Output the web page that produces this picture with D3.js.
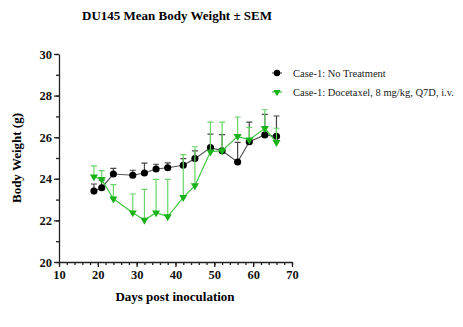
<!DOCTYPE html>
<html>
<head>
<meta charset="utf-8">
<script src="https://cdn.jsdelivr.net/npm/d3@7"></script>
<style>
  body { margin: 0; background: #fff; }
  svg text { font-family: "Liberation Serif", "Times New Roman", Times, "DejaVu Serif", serif !important; }
  .axis path, .axis line { stroke: #222; }
  .axis text { font-size: 12.5px; font-weight: bold; fill: #111; }
</style>
</head>
<body>
<script>
// days post inoculation
var days = [19, 21, 24, 29, 32, 35, 38, 42, 45, 49, 52, 56, 59, 63, 66];

// Case-1: No Treatment, mean and SEM (g)
var noTreatment = [23.41, 23.57, 24.23, 24.17, 24.28, 24.47, 24.53, 24.65, 24.97, 25.50, 25.35, 24.81, 25.78, 26.11, 26.04];
var noTreatmentSem = [0.34, 0.37, 0.27, 0.24, 0.47, 0.23, 0.24, 0.32, 0.37, 0.65, 0.77, 0.94, 0.94, 0.99, 0.98];

// Case-1: Docetaxel, mean and SEM (g)
var docetaxel = [24.10, 23.97, 23.04, 22.37, 22.02, 22.37, 22.18, 23.11, 23.67, 25.30, 25.35, 26.04, 25.87, 26.43, 25.75];
var docetaxelSem = [0.52, 0.42, 0.68, 0.90, 1.47, 1.60, 1.79, 2.05, 1.87, 1.42, 1.37, 0.93, 0.60, 0.89, 0.68];

var xTicks = [10, 20, 30, 40, 50, 60, 70];
var yTicks = [20, 22, 24, 26, 28, 30];

var width = 463,
    height = 327,
    margin = {top: 54, right: 171, bottom: 65, left: 59};

var svg = d3.select("body").append("svg")
    .attr("width", width)
    .attr("height", height);

var x = d3.scaleLinear().domain([10, 70]).range([margin.left, width - margin.right]);
var y = d3.scaleLinear().domain([20, 30]).range([height - margin.bottom, margin.top]);

// minor ticks first, then the labelled ones on top
svg.append("g")
    .attr("class", "axis")
    .attr("transform", "translate(0," + y(20) + ")")
    .call(d3.axisBottom(x).tickValues(d3.range(10, 71, 2)).tickSize(3).tickFormat(""))
    .call(function(g) { g.select(".domain").remove(); });
svg.append("g")
    .attr("class", "axis")
    .attr("transform", "translate(" + x(10) + ",0)")
    .call(d3.axisLeft(y).tickValues(d3.range(20, 31, 1)).tickSize(3).tickFormat(""))
    .call(function(g) { g.select(".domain").remove(); });

var gX = svg.append("g")
    .attr("class", "axis")
    .attr("transform", "translate(0," + y(20) + ")")
    .call(d3.axisBottom(x).tickValues(xTicks).tickSize(5).tickSizeOuter(0).tickPadding(3));
var gY = svg.append("g")
    .attr("class", "axis")
    .attr("transform", "translate(" + x(10) + ",0)")
    .call(d3.axisLeft(y).tickValues(yTicks).tickSize(5).tickSizeOuter(0).tickPadding(2));
svg.selectAll(".axis path, .axis line").attr("stroke-width", 1.3);
svg.selectAll(".axis").attr("font-family", null);

// title and axis labels
svg.append("text")
    .attr("x", 177)
    .attr("y", 20)
    .attr("text-anchor", "middle")
    .style("font-size", "13px")
    .style("font-weight", "bold")
    .text("DU145 Mean Body Weight \u00b1 SEM");
svg.append("text")
    .attr("x", 175)
    .attr("y", 301)
    .attr("text-anchor", "middle")
    .style("font-size", "13px")
    .style("font-weight", "bold")
    .text("Days post inoculation");
svg.append("text")
    .attr("transform", "rotate(-90)")
    .attr("x", -158)
    .attr("y", 21)
    .attr("text-anchor", "middle")
    .style("font-size", "13px")
    .style("font-weight", "bold")
    .text("Body Weight (g)");

var series = [
  {name: "Case-1: No Treatment", mean: noTreatment, sem: noTreatmentSem,
   line: "#555", bar: "#444", fill: "#000", shape: d3.symbolCircle, size: 40},
  {name: "Case-1: Docetaxel, 8 mg/kg, Q7D, i.v.", mean: docetaxel, sem: docetaxelSem,
   line: "#3fc43f", bar: "#6ad66a", fill: "#19b319", shape: d3.symbolTriangle, size: 28}
];

var lineGen = d3.line()
    .x(function(d) { return x(d.day); })
    .y(function(d) { return y(d.mean); });

series.forEach(function(s) {
  var pts = days.map(function(d, i) { return {day: d, mean: s.mean[i], sem: s.sem[i]}; });
  var g = svg.append("g");

  // upper error bars
  g.selectAll(".err")
    .data(pts)
    .enter().append("path")
      .attr("fill", "none")
      .attr("stroke", s.bar)
      .attr("stroke-width", 1.2)
      .attr("d", function(d) {
        var cx = x(d.day), top = y(d.mean + d.sem);
        return "M" + cx + "," + y(d.mean) + "V" + top + "M" + (cx - 3) + "," + top + "H" + (cx + 3);
      });

  g.append("path")
    .datum(pts)
    .attr("fill", "none")
    .attr("stroke", s.line)
    .attr("stroke-width", 1.2)
    .attr("d", lineGen);

  g.selectAll(".pt")
    .data(pts)
    .enter().append("path")
      .attr("d", d3.symbol().type(s.shape).size(s.size))
      .attr("fill", s.fill)
      .attr("transform", function(d) {
        return "translate(" + x(d.day) + "," + y(d.mean) + ")" + (s.shape === d3.symbolTriangle ? " rotate(180)" : "");
      });
});

// legend
var legend = svg.append("g").attr("transform", "translate(272,73)");
series.forEach(function(s, i) {
  var row = legend.append("g").attr("transform", "translate(0," + (i * 19) + ")");
  row.append("line")
    .attr("x1", 0).attr("x2", 10)
    .attr("stroke", s.line)
    .attr("stroke-width", 1.2);
  row.append("path")
    .attr("d", d3.symbol().type(s.shape).size(s.size * 0.8))
    .attr("fill", s.fill)
    .attr("transform", "translate(5,0)" + (s.shape === d3.symbolTriangle ? " rotate(180)" : ""));
  row.append("text")
    .attr("x", 21)
    .attr("y", 3.5)
    .style("font-size", "10.5px")
    .style("fill", "#222")
    .text(s.name);
});
</script>
</body>
</html>
